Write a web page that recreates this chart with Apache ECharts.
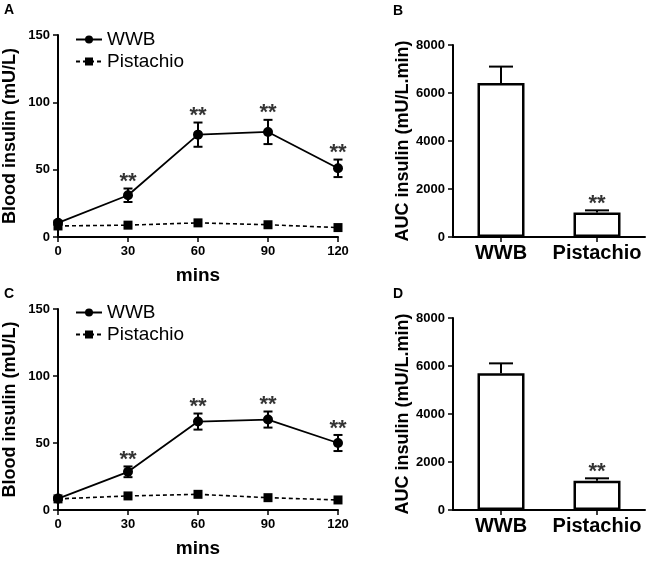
<!DOCTYPE html>
<html>
<head>
<meta charset="utf-8">
<script src="https://cdn.jsdelivr.net/npm/echarts@6/dist/echarts.min.js"></script>
<style>
html,body{margin:0;padding:0;background:#fff;}
#c{width:649px;height:561px;}
</style>
</head>
<body>
<div id="c"></div>
<script>
// ---- data ----
const times = [0, 30, 60, 90, 120];
const wwbA = [10.5, 31, 76, 78, 51];
const wwbAErr = [1.5, 5, 9, 9, 6.5];
const pisA = [8.2, 8.8, 10.5, 9.1, 7];
const pisAErr = [0.8, 0.8, 0.8, 0.8, 0.8];
const starsA = ['', '**', '**', '**', '**'];

const wwbC = [8.5, 28.5, 66, 67.5, 50];
const wwbCErr = [1, 4, 6, 6, 6];
const pisC = [8.3, 10.5, 11.7, 9.2, 7.5];
const pisCErr = [0.8, 0.8, 0.8, 0.8, 0.8];
const starsC = ['', '**', '**', '**', '**'];

const groups = ['WWB', 'Pistachio'];
const aucB = [6420, 1020];
const aucBErr = [680, 90];
const starsB = ['', '**'];
const aucD = [5700, 1220];
const aucDErr = [410, 100];
const starsD = ['', '**'];

const lineYTicks = [0, 150, 50];   // min, max, interval
const lineXTicks = [0, 120, 30];
const barYTicks = [0, 8000, 2000];

// ---- helpers ----
const FONT = "'Liberation Sans', Arial, Helvetica, sans-serif";
const black = '#000';

const grids = [
  {left: 58, top: 35, width: 280, height: 202},
  {left: 453, top: 45, width: 192, height: 192},
  {left: 58, top: 309, width: 280, height: 201},
  {left: 453, top: 318, width: 192, height: 192}
];

function axisCommon() {
  return {
    axisLine: {show: true, onZero: false, lineStyle: {color: black, width: 2}},
    axisTick: {show: true, length: 5, lineStyle: {color: black, width: 1.5}},
    splitLine: {show: false}
  };
}

function lineX(gi) {
  return Object.assign(axisCommon(), {
    type: 'value', gridIndex: gi, min: lineXTicks[0], max: lineXTicks[1], interval: lineXTicks[2],
    name: 'mins', nameLocation: 'middle', nameGap: 29,
    nameTextStyle: {fontFamily: FONT, fontWeight: 'bold', fontSize: 19, color: black},
    axisLabel: {fontFamily: FONT, fontWeight: 'bold', fontSize: 13, color: black, margin: 8}
  });
}
function lineY(gi) {
  return Object.assign(axisCommon(), {
    type: 'value', gridIndex: gi, min: lineYTicks[0], max: lineYTicks[1], interval: lineYTicks[2],
    name: 'Blood insulin (mU/L)', nameLocation: 'middle', nameGap: 39,
    nameTextStyle: {fontFamily: FONT, fontWeight: 'bold', fontSize: 18, color: black},
    axisLabel: {fontFamily: FONT, fontWeight: 'bold', fontSize: 13, color: black, margin: 8}
  });
}
function barX(gi) {
  const a = axisCommon();
  a.axisTick.alignWithLabel = true;
  return Object.assign(a, {
    type: 'category', gridIndex: gi, data: groups, boundaryGap: true,
    axisLabel: {fontFamily: FONT, fontWeight: 'bold', fontSize: 20, color: black, margin: 6,
      interval: 0, hideOverlap: false}
  });
}
function barY(gi) {
  return Object.assign(axisCommon(), {
    type: 'value', gridIndex: gi, min: barYTicks[0], max: barYTicks[1], interval: barYTicks[2],
    name: 'AUC insulin (mU/L.min)', nameLocation: 'middle', nameGap: 36,
    nameTextStyle: {fontFamily: FONT, fontWeight: 'bold', fontSize: 18, color: black},
    axisLabel: {fontFamily: FONT, fontWeight: 'bold', fontSize: 13, color: black, margin: 8,
      formatter: v => String(v)}
  });
}

function errRender(capW, upOnly) {
  return function (params, api) {
    const x = api.value(0), lo = api.value(1), hi = api.value(2);
    const pLo = api.coord([x, lo]);
    const pHi = api.coord([x, hi]);
    const st = {stroke: black, lineWidth: 2};
    const kids = [
      {type: 'line', shape: {x1: pLo[0], y1: pLo[1], x2: pHi[0], y2: pHi[1]}, style: st},
      {type: 'line', shape: {x1: pHi[0] - capW / 2, y1: pHi[1], x2: pHi[0] + capW / 2, y2: pHi[1]}, style: st}
    ];
    if (!upOnly) {
      kids.push({type: 'line', shape: {x1: pLo[0] - capW / 2, y1: pLo[1], x2: pLo[0] + capW / 2, y2: pLo[1]}, style: st});
    }
    return {type: 'group', children: kids};
  };
}

function starSeries(xi, xs, means, errs, stars) {
  const data = [];
  xs.forEach((x, i) => { if (stars[i]) data.push({value: [x, means[i] + errs[i]], star: stars[i]}); });
  return {
    type: 'scatter', xAxisIndex: xi, yAxisIndex: xi, symbolSize: 1,
    itemStyle: {color: 'transparent'}, silent: true, z: 5,
    label: {show: true, position: 'top', distance: -5, formatter: '**',
      fontFamily: FONT, fontWeight: 'bold', fontSize: 22, color: black},
    data: data
  };
}

function lineSeries(gi, wwb, wwbErr, pis, pisErr, stars) {
  return [
    {type: 'custom', xAxisIndex: gi, yAxisIndex: gi, renderItem: errRender(9, false), z: 3, silent: true,
      data: times.map((t, i) => [t, wwb[i] - wwbErr[i], wwb[i] + wwbErr[i]])},
    {type: 'custom', xAxisIndex: gi, yAxisIndex: gi, renderItem: errRender(6, false), z: 3, silent: true,
      data: times.map((t, i) => [t, pis[i] - pisErr[i], pis[i] + pisErr[i]])},
    {name: 'WWB', type: 'line', xAxisIndex: gi, yAxisIndex: gi, symbol: 'circle', symbolSize: 10,
      lineStyle: {color: black, width: 1.8, type: 'solid'}, itemStyle: {color: black}, z: 4,
      data: times.map((t, i) => [t, wwb[i]])},
    {name: 'Pistachio', type: 'line', xAxisIndex: gi, yAxisIndex: gi, symbol: 'rect', symbolSize: 9,
      lineStyle: {color: black, width: 1.6, type: [4, 3]}, itemStyle: {color: black}, z: 4,
      data: times.map((t, i) => [t, pis[i]])},
    starSeries(gi, times, wwb, wwbErr, stars)
  ];
}

function barSeries(gi, vals, errs, stars) {
  return [
    {type: 'bar', xAxisIndex: gi, yAxisIndex: gi, barWidth: 47, silent: true,
      itemStyle: {color: '#fff', borderColor: black, borderWidth: 2.5}, z: 2,
      data: vals},
    {type: 'custom', xAxisIndex: gi, yAxisIndex: gi, renderItem: errRender(24, true), z: 3, silent: true,
      data: vals.map((v, i) => [i, v, v + errs[i]])},
    starSeries(gi, [0, 1], vals, errs, stars)
  ];
}

const legendText = {fontFamily: FONT, fontSize: 19, color: black};
const option = {
  animation: false,
  backgroundColor: '#fff',
  grid: grids,
  xAxis: [lineX(0), barX(1), lineX(2), barX(3)],
  yAxis: [lineY(0), barY(1), lineY(2), barY(3)],
  legend: [
    {left: 70, top: 25, orient: 'vertical', itemWidth: 26, itemHeight: 10, itemGap: 3,
      data: ['WWB', 'Pistachio'], textStyle: legendText, selectedMode: false},
    {left: 70, top: 298, orient: 'vertical', itemWidth: 26, itemHeight: 10, itemGap: 3,
      data: ['WWB', 'Pistachio'], textStyle: legendText, selectedMode: false}
  ],
  graphic: [
    {type: 'text', left: 4, top: 3, style: {text: 'A', font: "bold 14px " + FONT, fill: black}},
    {type: 'text', left: 393, top: 4, style: {text: 'B', font: "bold 14px " + FONT, fill: black}},
    {type: 'text', left: 4, top: 287, style: {text: 'C', font: "bold 14px " + FONT, fill: black}},
    {type: 'text', left: 393, top: 287, style: {text: 'D', font: "bold 14px " + FONT, fill: black}}
  ],
  series: [].concat(
    lineSeries(0, wwbA, wwbAErr, pisA, pisAErr, starsA),
    barSeries(1, aucB, aucBErr, starsB),
    lineSeries(2, wwbC, wwbCErr, pisC, pisCErr, starsC),
    barSeries(3, aucD, aucDErr, starsD)
  )
};

const chart = echarts.init(document.getElementById('c'), null, {renderer: 'canvas'});
chart.setOption(option);
</script>
</body>
</html>
